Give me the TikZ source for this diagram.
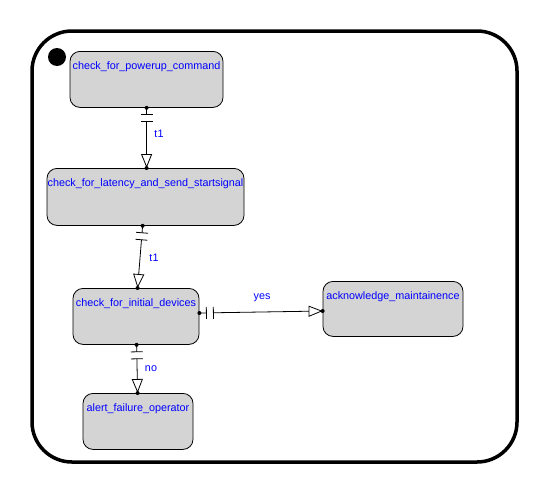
\documentclass[tikz,border=0pt]{standalone}
\usepackage{fontspec}
\setmainfont{Liberation Sans}
\usetikzlibrary{arrows.meta,calc}
\definecolor{stategray}{RGB}{212,212,212}
\definecolor{txtblue}{RGB}{0,0,255}
\newcommand\guardedtrans[3]{%
  \coordinate (#3a) at ($(#1)!7pt!(#2)$);
  \coordinate (#3b) at ($(#1)!14pt!(#2)$);
  \draw[conn] (#1) -- (#3a);
  \draw[conn] ($(#3a)!6pt!90:(#2)$) -- ($(#3a)!6pt!-90:(#2)$);
  \draw[conn] ($(#3b)!6pt!90:(#2)$) -- ($(#3b)!6pt!-90:(#2)$);
  \draw[conn,-{Triangle[open,length=14pt,width=11pt]}] (#3b) -- (#2);
  \fill (#1) circle (2pt) (#2) circle (2pt);
}
\begin{document}
\begin{tikzpicture}[x=1pt,y=-1pt,
  state/.style={draw, line width=0.8pt, rounded corners=10pt, fill=stategray,
    inner xsep=0pt, inner ysep=0pt, text height=18pt, anchor=north,
    font=\fontsize{10.8}{12}\selectfont, text=txtblue},
  conn/.style={line width=0.8pt},
  lbl/.style={font=\fontsize{10.8}{12}\selectfont, text=txtblue, inner sep=0pt}]
\useasboundingbox (0,0) rectangle (534,490);
\node[draw, line width=3.5pt, rounded corners=40pt, minimum width=485pt, minimum height=431pt, inner sep=0pt] (frame) at (274.5,246.5) {};
\node[circle, fill=black, minimum size=18pt, inner sep=0pt] (init) at (57,57) {};
\node[state, minimum width=153pt, text depth=38pt] (n1) at (146.5,51) {check\_for\_powerup\_command};
\node[state, minimum width=197pt, text depth=39pt] (n2) at (145.5,168) {check\_for\_latency\_and\_send\_startsignal};
\node[state, minimum width=126pt, text depth=38pt] (n3) at (136,288) {check\_for\_initial\_devices};
\node[state, minimum width=140pt, text depth=37pt] (n4) at (393,281) {acknowledge\_maintainence};
\node[state, minimum width=110pt, text depth=38pt] (n5) at (138,393) {alert\_failure\_operator};
\coordinate (s1) at ($(n1.south west)+(77,0)$);
\coordinate (e1) at ($(n2.north west)+(100,0)$);
\coordinate (s2) at ($(n2.south west)+(96,0)$);
\coordinate (e2) at ($(n3.north west)+(65,0)$);
\coordinate (s3) at ($(n3.north east)+(0,25)$);
\coordinate (e3) at ($(n4.north west)+(0,30)$);
\coordinate (s4) at ($(n3.south west)+(64,0)$);
\coordinate (e4) at ($(n5.north west)+(55,0)$);
\guardedtrans{s1}{e1}{g1}
\guardedtrans{s2}{e2}{g2}
\guardedtrans{s3}{e3}{g3}
\guardedtrans{s4}{e4}{g4}
\node[lbl] (l1) at (159,134) {t1};
\node[lbl] (l2) at (154,258) {t1};
\node[lbl] (l3) at (262,298) {yes};
\node[lbl] (l4) at (151,369) {no};
\end{tikzpicture}
\end{document}
